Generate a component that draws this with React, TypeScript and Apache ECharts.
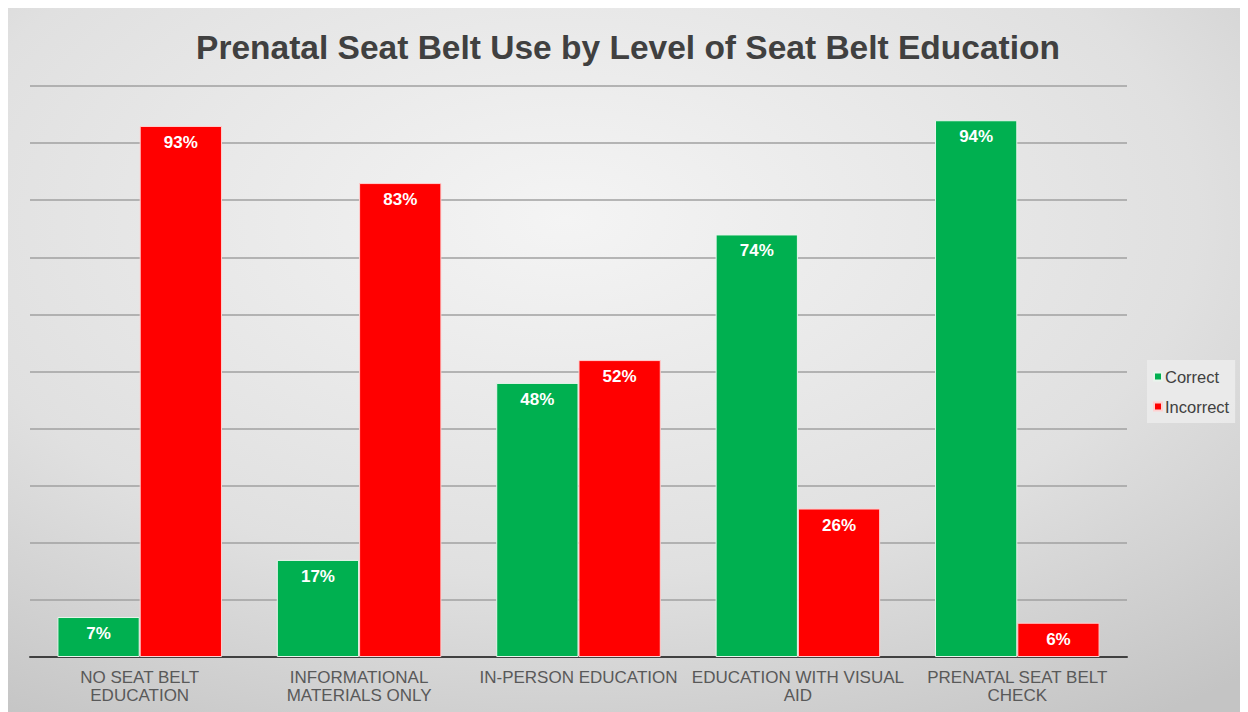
import React, { useEffect, useRef } from "react";
import * as echarts from "echarts";

const categories = [
  "NO SEAT BELT\nEDUCATION",
  "INFORMATIONAL\nMATERIALS ONLY",
  "IN-PERSON EDUCATION",
  "EDUCATION WITH VISUAL\nAID",
  "PRENATAL SEAT BELT\nCHECK",
];
const correct = [7, 17, 48, 74, 94];
const incorrect = [93, 83, 52, 26, 6];

export default function App() {
  const ref = useRef<HTMLDivElement>(null);
  useEffect(() => {
    if (!ref.current) return;
    const chart = echarts.init(ref.current, undefined, { renderer: "svg" });
    const label = {
      show: true,
      position: "insideTop",
      distance: 8,
      color: "#ffffff",
      fontWeight: "bold",
      fontSize: 17,
      fontFamily: "Liberation Sans, Arial, sans-serif",
      formatter: (p: any) => p.value + "%",
    };
    chart.setOption({
      animation: false,
      backgroundColor: {
        type: "radial",
        x: 0.45,
        y: 0.3,
        r: 0.85,
        colorStops: [
          { offset: 0, color: "#f4f4f4" },
          { offset: 0.6, color: "#e0e0e0" },
          { offset: 1, color: "#c4c4c4" },
        ],
      },
      title: {
        text: "Prenatal Seat Belt Use by Level of Seat Belt Education",
        left: "center",
        top: 17,
        textStyle: {
          color: "#404040",
          fontSize: 33.5,
          fontWeight: "bold",
          fontFamily: "Liberation Sans, Arial, sans-serif",
        },
      },
      legend: {
        orient: "vertical",
        left: 1139,
        top: 352,
        itemWidth: 8,
        itemHeight: 8,
        itemGap: 13,
        padding: [8, 6, 8, 6],
        backgroundColor: "rgba(235,235,235,0.9)",
        icon: "rect",
        textStyle: {
          color: "#404040",
          fontSize: 16.5,
          fontFamily: "Liberation Sans, Arial, sans-serif",
          padding: [0, 0, 0, -2],
        },
        data: ["Correct", "Incorrect"],
      },
      grid: { left: 22, right: 121, top: 78, bottom: 55, containLabel: false },
      xAxis: {
        type: "category",
        data: categories,
        axisLine: { lineStyle: { color: "#404040", width: 2 } },
        axisTick: { show: false },
        axisLabel: {
          color: "#595959",
          fontSize: 17,
          lineHeight: 18,
          margin: 11,
          fontFamily: "Liberation Sans, Arial, sans-serif",
          interval: 0,
        },
      },
      yAxis: {
        type: "value",
        min: 0,
        max: 100,
        interval: 10,
        axisLabel: { show: false },
        axisLine: { show: false },
        axisTick: { show: false },
        splitLine: { lineStyle: { color: "#a0a0a0", width: 1.5 } },
      },
      series: [
        {
          name: "Correct",
          type: "bar",
          data: correct,
          barGap: "0%",
          barCategoryGap: "25%",
          itemStyle: { color: "#00b050", borderColor: "#e8f5ec", borderWidth: 1 },
          label,
        },
        {
          name: "Incorrect",
          type: "bar",
          data: incorrect,
          itemStyle: { color: "#ff0000", borderColor: "#ffd0d0", borderWidth: 1 },
          label,
        },
      ],
    });
    return () => chart.dispose();
  }, []);
  return <div ref={ref} style={{ width: 1240, height: 704 }} />;
}
